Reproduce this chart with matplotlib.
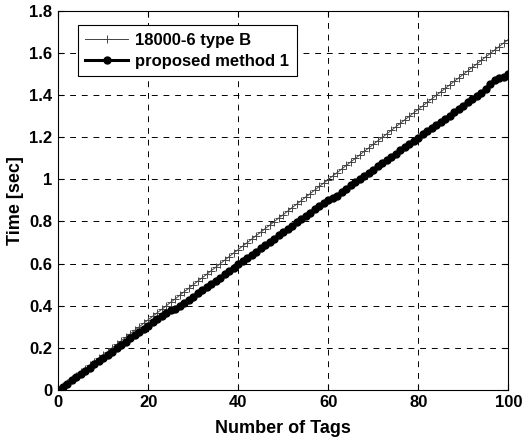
import numpy as np
import matplotlib.pyplot as plt

# number of tags (0..100)
tags = list(range(0, 101))

# 18000-6 type B
time_type_b = [
    0.000, 0.016, 0.033, 0.050, 0.067, 0.083, 0.099, 0.117, 0.133, 0.150,
    0.166, 0.182, 0.200, 0.216, 0.233, 0.249, 0.266, 0.283, 0.299, 0.316,
    0.333, 0.349, 0.366, 0.382, 0.399, 0.416, 0.432, 0.449, 0.466, 0.482,
    0.499, 0.516, 0.532, 0.549, 0.566, 0.582, 0.599, 0.616, 0.633, 0.650,
    0.666, 0.683, 0.699, 0.716, 0.733, 0.749, 0.766, 0.782, 0.799, 0.816,
    0.832, 0.849, 0.866, 0.882, 0.899, 0.916, 0.932, 0.949, 0.966, 0.982,
    0.999, 1.016, 1.032, 1.049, 1.066, 1.083, 1.099, 1.116, 1.133, 1.149,
    1.166, 1.183, 1.199, 1.216, 1.233, 1.249, 1.266, 1.283, 1.299, 1.316,
    1.333, 1.349, 1.366, 1.382, 1.399, 1.416, 1.432, 1.449, 1.466, 1.482,
    1.499, 1.515, 1.532, 1.548, 1.565, 1.582, 1.598, 1.615, 1.631, 1.648,
    1.664,
]

# proposed method 1
time_proposed = [
    0.000, 0.014, 0.030, 0.045, 0.060, 0.075, 0.091, 0.106, 0.121, 0.136,
    0.152, 0.167, 0.182, 0.198, 0.213, 0.229, 0.244, 0.259, 0.275, 0.290,
    0.305, 0.320, 0.336, 0.351, 0.366, 0.381, 0.386, 0.397, 0.412, 0.428,
    0.443, 0.458, 0.473, 0.488, 0.503, 0.518, 0.533, 0.548, 0.564, 0.580,
    0.596, 0.611, 0.626, 0.642, 0.657, 0.672, 0.688, 0.703, 0.718, 0.734,
    0.749, 0.764, 0.780, 0.795, 0.811, 0.826, 0.841, 0.857, 0.872, 0.888,
    0.903, 0.910, 0.923, 0.940, 0.956, 0.971, 0.986, 1.001, 1.016, 1.031,
    1.046, 1.061, 1.076, 1.092, 1.107, 1.122, 1.138, 1.153, 1.169, 1.184,
    1.196, 1.214, 1.229, 1.244, 1.258, 1.272, 1.287, 1.302, 1.318, 1.334,
    1.350, 1.366, 1.381, 1.396, 1.411, 1.428, 1.455, 1.470, 1.480, 1.488,
    1.500,
]

plt.rcParams['font.family'] = ['Liberation Sans', 'DejaVu Sans']
plt.rcParams['font.weight'] = 'bold'

fig = plt.figure(figsize=(5.24, 4.38), dpi=100)
ax = fig.add_axes([0.111, 0.110, 0.859, 0.865])

ax.plot(tags, time_type_b, color='#444444', linewidth=0.7, marker='+',
        markersize=6, markeredgewidth=0.7, label='18000-6 type B')
ax.plot(tags, time_proposed, color='black', linewidth=2.2, marker='o',
        markersize=5, label='proposed method 1')

ax.set_xlim(0, 100)
ax.set_ylim(0, 1.8)
ax.set_xticks([0, 20, 40, 60, 80, 100])
ax.set_yticks([0, 0.2, 0.4, 0.6, 0.8, 1, 1.2, 1.4, 1.6, 1.8])
ax.set_yticklabels(['0', '0.2', '0.4', '0.6', '0.8', '1', '1.2', '1.4', '1.6', '1.8'])
ax.tick_params(direction='in', top=True, right=True, labelsize=12, length=4, pad=4)
for lab in ax.get_xticklabels() + ax.get_yticklabels():
    lab.set_fontweight('bold')

ax.grid(True, color='black', linestyle=(0, (6, 6)), linewidth=0.7)

ax.set_xlabel('Number of Tags', fontsize=13, fontweight='bold', labelpad=7)
ax.set_ylabel('Time [sec]', fontsize=13, fontweight='bold', labelpad=4)

leg = ax.legend(loc='upper left', fontsize=12, fancybox=False, framealpha=1,
                edgecolor='black', bbox_to_anchor=(0.043, 0.962), borderaxespad=0,
                handlelength=2.6, handletextpad=0.4,
                borderpad=0.45, labelspacing=0.35)
leg.get_frame().set_linewidth(0.8)
for t in leg.get_texts():
    t.set_fontweight('bold')

for s in ax.spines.values():
    s.set_linewidth(0.8)

plt.savefig('out.png', dpi=100)
